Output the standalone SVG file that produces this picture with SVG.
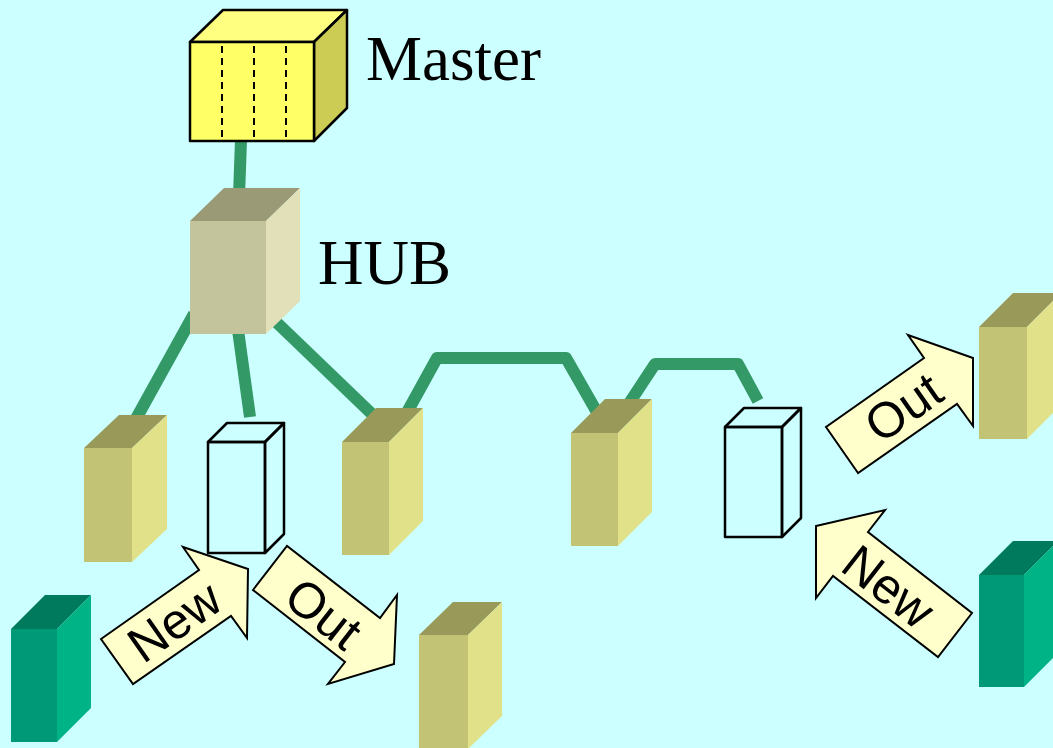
<svg xmlns="http://www.w3.org/2000/svg" width="1053" height="748" viewBox="0 0 1053 748">
  <style>
    .bg { fill: #CCFFFF; }
    .link { fill: none; stroke: #339966; stroke-width: 12; stroke-linejoin: round; stroke-linecap: butt; }
    .k-front { fill: #C3C375; }
    .k-top { fill: #99995A; }
    .k-side { fill: #E1E189; }
    .g-front { fill: #009977; }
    .g-top { fill: #007A5C; }
    .g-side { fill: #00B386; }
    .h-front { fill: #C4C49C; }
    .h-top { fill: #9A9A76; }
    .h-side { fill: #E1E0B8; }
    .m-front { fill: #FFFF66; stroke: #000; stroke-width: 2.5; stroke-linejoin: round; }
    .m-top { fill: #FFFF80; stroke: #000; stroke-width: 2.5; stroke-linejoin: round; }
    .m-side { fill: #CCCC55; stroke: #000; stroke-width: 2.5; stroke-linejoin: round; }
    .dash { stroke: #000; stroke-width: 2; stroke-dasharray: 7 5; }
    .wire { fill: none; stroke: #000; stroke-width: 2.5; stroke-linejoin: round; }
    .arrow { fill: #FFFFCC; stroke: #000; stroke-width: 2; stroke-linejoin: miter; }
    .alabel { font-family: "Liberation Sans", Arial, sans-serif; font-size: 50px; fill: #000; text-anchor: middle; }
    .title { font-family: "Liberation Serif", "Times New Roman", serif; font-size: 63px; fill: #000; }
  </style>

  <rect class="bg" x="0" y="0" width="1053" height="748"/>

  <!-- network cabling -->
  <g id="connectors">
    <line class="link" x1="241" y1="140" x2="239" y2="196"/>
    <line class="link" x1="194" y1="314" x2="132" y2="426"/>
    <line class="link" x1="238" y1="330" x2="250" y2="417"/>
    <line class="link" x1="272" y1="318" x2="374" y2="416"/>
    <polyline class="link" points="405,416 437,358 566,358 598,414"/>
    <polyline class="link" points="626,408 655,364 738,364 758,401"/>
  </g>

  <g id="master">
    <polygon class="m-top" points="190,42 223,10 347,10 314,42"/>
    <polygon class="m-side" points="314,42 347,10 347,108 314,141"/>
    <rect class="m-front" x="190" y="42" width="124" height="99"/>
    <line class="dash" x1="222" y1="46" x2="222" y2="138"/>
    <line class="dash" x1="254" y1="46" x2="254" y2="138"/>
    <line class="dash" x1="286" y1="46" x2="286" y2="138"/>
    <text class="title" x="366" y="80" font-size="64">Master</text>
  </g>

  <g id="hub">
    <polygon class="h-top" points="190,221 224,188 300,188 266,221"/>
    <polygon class="h-side" points="266,221 300,188 300,301 266,334"/>
    <rect class="h-front" x="190" y="221" width="76" height="113"/>
    <text class="title" x="318" y="284">HUB</text>
  </g>

  <g id="station-1">
    <polygon class="k-top" points="84,448 119,415 167,415 132,448"/>
    <polygon class="k-side" points="132,448 167,415 167,529 132,562"/>
    <rect class="k-front" x="84" y="448" width="48" height="114"/>
  </g>

  <g id="slot-1">
    <polygon class="wire" points="208,442 227,423 284,423 265,442"/>
    <polygon class="wire" points="265,442 284,423 284,534 265,553"/>
    <rect class="wire" x="208" y="442" width="57" height="111"/>
  </g>

  <g id="station-3">
    <polygon class="k-top" points="342,442 376,408 423,408 389,442"/>
    <polygon class="k-side" points="389,442 423,408 423,521 389,555"/>
    <rect class="k-front" x="342" y="442" width="47" height="113"/>
  </g>

  <g id="station-4">
    <polygon class="k-top" points="571,433 605,399 652,399 618,433"/>
    <polygon class="k-side" points="618,433 652,399 652,512 618,546"/>
    <rect class="k-front" x="571" y="433" width="47" height="113"/>
  </g>

  <g id="slot-2">
    <polygon class="wire" points="725,427 744,408 801,408 782,427"/>
    <polygon class="wire" points="782,427 801,408 801,518 782,537"/>
    <rect class="wire" x="725" y="427" width="57" height="110"/>
  </g>

  <g id="removed-right">
    <polygon class="k-top" points="979,327 1013,293 1061,293 1027,327"/>
    <polygon class="k-side" points="1027,327 1061,293 1061,405 1027,439"/>
    <rect class="k-front" x="979" y="327" width="48" height="112"/>
  </g>

  <g id="removed-left">
    <polygon class="k-top" points="419,635 453,602 502,602 468,635"/>
    <polygon class="k-side" points="468,635 502,602 502,716 468,749"/>
    <rect class="k-front" x="419" y="635" width="49" height="114"/>
  </g>

  <g id="new-left">
    <polygon class="g-top" points="11,629 45,595 91,595 57,629"/>
    <polygon class="g-side" points="57,629 91,595 91,708 57,742"/>
    <rect class="g-front" x="11" y="629" width="46" height="113"/>
  </g>

  <g id="new-right">
    <polygon class="g-top" points="979,575 1013,541 1058,541 1024,575"/>
    <polygon class="g-side" points="1024,575 1058,541 1058,653 1024,687"/>
    <rect class="g-front" x="979" y="575" width="45" height="112"/>
  </g>

  <g id="arrow-new-left">
    <polygon class="arrow" points="101,639 199,570 183,547 248,569 247,638 231,616 133,684"/>
    <text class="alabel" transform="translate(174,621) rotate(-35)" y="18">New</text>
  </g>

  <g id="arrow-out-left">
    <polygon class="arrow" points="253,590 287,546 380,618 397,595 394,664 328,684 345,662"/>
    <text class="alabel" transform="translate(324,613) rotate(38)" y="18">Out</text>
  </g>

  <g id="arrow-out-right">
    <polygon class="arrow" points="858,473 826,427 924,358 908,335 973,358 973,426 957,404"/>
    <text class="alabel" transform="translate(903,407) rotate(-35)" y="18">Out</text>
  </g>

  <g id="arrow-new-right">
    <polygon class="arrow" points="816,526 885,510 868,532 972,613 938,657 833,576 816,598"/>
    <text class="alabel" transform="translate(889,586) rotate(38)" y="18">New</text>
  </g>
</svg>
